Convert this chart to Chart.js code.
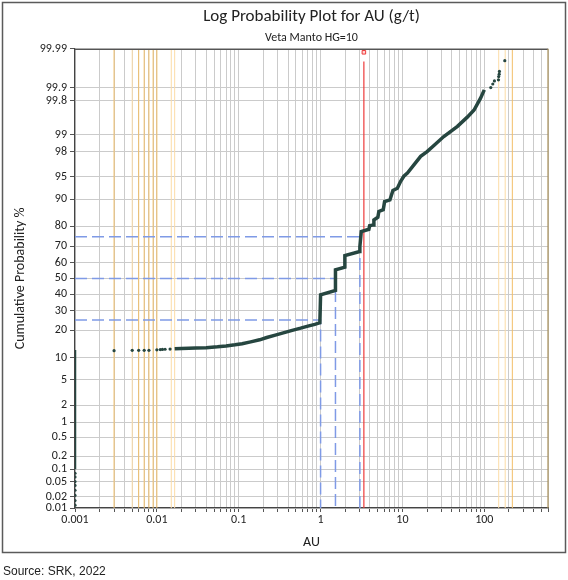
<!DOCTYPE html>
<html>
<head>
<meta charset="utf-8">
<script src="https://cdn.jsdelivr.net/npm/chart.js@4.4.1/dist/chart.umd.min.js"></script>
<style>
  html, body { margin: 0; padding: 0; background: #fff; }
  #wrap { position: absolute; left: 0; top: 0; width: 568px; height: 580px; }
  #source { position: absolute; left: 3px; top: 564px; font: 12px 'Liberation Sans', Arial, sans-serif; color: #222; }
</style>
</head>
<body>
<div id="wrap"><canvas id="chart"></canvas></div>
<div id="source">Source: SRK, 2022</div>
<script>
// axes
const xMin = 0.001;
const xMax = 600;
const xDecades = [0.001, 0.01, 0.1, 1, 10, 100];
const xTickLabels = ['0.001', '0.01', '0.1', '1', '10', '100'];
const yTicks = [0.01, 0.02, 0.05, 0.1, 0.2, 0.5, 1, 2, 5, 10, 20, 30, 40, 50, 60, 70, 80, 90, 95, 98, 99, 99.8, 99.9, 99.99];
const yTickLabels = ['0.01', '0.02', '0.05', '0.1', '0.2', '0.5', '1', '2', '5', '10', '20', '30', '40', '50', '60', '70', '80', '90', '95', '98', '99', '99.8', '99.9', '99.99'];

// samples at detection limit (AU = 0.001)
const dlLineProb = [0.1, 0.3, 1, 3, 6, 9, 12.3];
const dlDotProb = [0.012, 0.016, 0.022, 0.03, 0.04, 0.05, 0.065, 0.08];

// sparse low grade points
const lowAu = [0.003, 0.005, 0.006, 0.007, 0.008, 0.01, 0.011, 0.0117, 0.0126, 0.0145];
const lowProb = [12.1, 12.2, 12.2, 12.2, 12.2, 12.35, 12.45, 12.5, 12.55, 12.6];

// main curve
const curveAu = [0.0165, 0.02, 0.03, 0.04, 0.055, 0.07, 0.09, 0.11, 0.14, 0.18, 0.22, 0.28, 0.35, 0.45, 0.57, 0.7, 0.85, 0.98,
  1.0, 1.52, 1.52, 1.98, 1.98, 3.0, 3.02, 3.14,
  3.89, 3.97, 4.41, 4.48, 5.01, 5.15, 5.83, 6.05, 7.03, 7.65, 8.67, 9.51, 10.4, 11.5, 13.8, 16.7, 20, 25, 32, 47, 62, 75, 90, 100];
const curveProb = [12.7, 12.8, 12.95, 13.1, 13.4, 13.7, 14.1, 14.5, 15.2, 16.0, 16.9, 17.9, 18.9, 20.0, 21.0, 22.0, 22.8, 23.6,
  39.5, 42.2, 55.5, 57.2, 64.4, 66.8, 69.7, 77.6,
  78.7, 80.3, 80.7, 82.8, 83.9, 86.1, 86.7, 89.3, 89.8, 92.3, 92.8, 94.2, 95.1, 95.6, 96.7, 97.6, 98.0, 98.5, 98.92, 99.31, 99.55, 99.68, 99.825, 99.887];

// sparse high grade points
const topAu = [120, 127, 133, 149, 150, 152, 153, 178];
const topProb = [99.9, 99.918, 99.931, 99.935, 99.946, 99.953, 99.96, 99.979];

// reference lines
const quartileProb = [25, 50, 75];
const quartileAu = [1.0, 1.52, 3.02];
const meanAu = 3.38;
const orangeStrong = [0.003, 0.006, 0.007, 0.008, 0.009, 0.01, 220];
const orangeLight = [0.005, 0.015, 0.0165, 150, 180];

const yMin = 0.01;
const yMax = 99.99;

const probit = (p) => {
  const a = [-39.69683028665376, 220.9460984245205, -275.9285104469687, 138.3577518672690, -30.66479806614716, 2.506628277459239];
  const b = [-54.47609879822406, 161.5858368580409, -155.6989798598866, 66.80131188771972, -13.28068155288572];
  const c = [-0.007784894002430293, -0.3223964580411365, -2.400758277161838, -2.549671348366591, 4.374664141464968, 2.938163982698783];
  const d = [0.007784695709041462, 0.3224671290700398, 2.445134137142996, 3.754408661907416];
  const pl = 0.02425;
  if (p < pl) {
    const q = Math.sqrt(-2 * Math.log(p));
    return (((((c[0] * q + c[1]) * q + c[2]) * q + c[3]) * q + c[4]) * q + c[5]) / ((((d[0] * q + d[1]) * q + d[2]) * q + d[3]) * q + 1);
  }
  if (p <= 1 - pl) {
    const q = p - 0.5;
    const r = q * q;
    return (((((a[0] * r + a[1]) * r + a[2]) * r + a[3]) * r + a[4]) * r + a[5]) * q / (((((b[0] * r + b[1]) * r + b[2]) * r + b[3]) * r + b[4]) * r + 1);
  }
  const q = Math.sqrt(-2 * Math.log(1 - p));
  return -(((((c[0] * q + c[1]) * q + c[2]) * q + c[3]) * q + c[4]) * q + c[5]) / ((((d[0] * q + d[1]) * q + d[2]) * q + d[3]) * q + 1);
};

const normCdf = (z) => {
  const t = 1 / (1 + 0.3275911 * Math.abs(z) / Math.SQRT2);
  const y = 1 - (((((1.061405429 * t - 1.453152027) * t) + 1.421413741) * t - 0.284496736) * t + 0.254829592) * t * Math.exp(-z * z / 2);
  return z >= 0 ? (1 + y) / 2 : (1 - y) / 2;
};

// probability (normal quantile) axis
class ProbabilityScale extends Chart.Scale {
  static id = 'probability';
  static defaults = {};

  determineDataLimits() {
    this.min = this.options.min;
    this.max = this.options.max;
  }

  buildTicks() {
    return yTicks.map((v) => ({ value: v }));
  }

  getLabelForValue(v) {
    return String(v);
  }

  getPixelForValue(v) {
    if (v === null || v === undefined || isNaN(v)) return NaN;
    const z0 = probit(this.min / 100);
    const z1 = probit(this.max / 100);
    return this.getPixelForDecimal((probit(v / 100) - z0) / (z1 - z0));
  }

  getValueForPixel(px) {
    const z0 = probit(this.min / 100);
    const z1 = probit(this.max / 100);
    return normCdf(z0 + this.getDecimalForPixel(px) * (z1 - z0)) * 100;
  }
}
Chart.register(ProbabilityScale);

const xGridTicks = [];
xDecades.forEach((d) => {
  for (let k = 1; k <= 9; k++) {
    const v = +(d * k).toPrecision(6);
    if (v <= xMax) xGridTicks.push(v);
  }
});

const pts = (xs, ys) => xs.map((x, i) => ({ x, y: ys[i] }));
const dark = '#264640';

const vLine = (x, color, order) => ({
  data: [{ x, y: yMin }, { x, y: yMax }],
  showLine: true,
  borderColor: color,
  borderWidth: 1,
  pointRadius: 0,
  order,
});

const datasets = [
  {
    data: pts(curveAu, curveProb),
    showLine: true,
    borderColor: dark,
    borderWidth: 3.5,
    pointRadius: 0,
    order: 0,
  },
  {
    data: dlLineProb.map((p) => ({ x: xMin, y: p })),
    showLine: true,
    borderColor: dark,
    borderWidth: 2.5,
    pointRadius: 0,
    order: 0,
  },
  {
    data: [
      ...dlDotProb.map((p) => ({ x: xMin, y: p })),
      ...pts(lowAu, lowProb),
      ...pts(topAu, topProb),
    ],
    backgroundColor: dark,
    borderColor: dark,
    pointRadius: 1.6,
    borderWidth: 0,
    order: 0,
  },
  ...quartileProb.map((p, i) => ({
    data: [{ x: xMin, y: p }, { x: quartileAu[i], y: p }, { x: quartileAu[i], y: yMin }],
    showLine: true,
    borderColor: '#7f9ae6',
    borderWidth: 1.5,
    borderDash: [12, 5],
    pointRadius: 0,
    order: 2,
  })),
  {
    data: [{ x: meanAu, y: 99.978 }, { x: meanAu, y: yMin }],
    showLine: true,
    borderColor: '#ee3a3a',
    borderWidth: 1.2,
    pointRadius: 0,
    order: 1,
  },
  {
    data: [{ x: meanAu, y: 99.9875 }],
    pointStyle: 'rect',
    pointRadius: 2.5,
    backgroundColor: '#ffd6d6',
    borderColor: '#ee3a3a',
    borderWidth: 1,
    order: 1,
  },
  ...orangeStrong.map((x) => vLine(x, '#f2bf68', 3)),
  ...orangeLight.map((x) => vLine(x, '#fcdca6', 3)),
];

const framePlugin = {
  id: 'frame',
  beforeDraw(chart) {
    const { ctx } = chart;
    ctx.save();
    ctx.fillStyle = '#fff';
    ctx.fillRect(0, 0, chart.width, chart.height);
    ctx.restore();
  },
  afterDraw(chart) {
    const { ctx, chartArea: a } = chart;
    ctx.save();
    ctx.lineWidth = 1.2;
    ctx.strokeStyle = '#555';
    ctx.beginPath();
    ctx.moveTo(a.left, a.top + 0.5);
    ctx.lineTo(a.right, a.top + 0.5);
    ctx.stroke();
    ctx.strokeStyle = '#a8905a';
    ctx.beginPath();
    ctx.moveTo(a.right, a.top);
    ctx.lineTo(a.right, a.bottom);
    ctx.stroke();
    ctx.lineWidth = 1.5;
    ctx.strokeStyle = '#5a5a5a';
    ctx.strokeRect(2.5, 2.5, 563, 550);
    ctx.restore();
  },
};

Chart.defaults.font.family = "Carlito, Lato, 'Open Sans', sans-serif";
Chart.defaults.color = '#222';

new Chart(document.getElementById('chart'), {
  type: 'scatter',
  data: { datasets },
  plugins: [framePlugin],
  options: {
    responsive: true,
    maintainAspectRatio: false,
    animation: false,
    layout: { padding: { left: 8, right: 20, top: 0, bottom: 25 } },
    plugins: {
      legend: { display: false },
      tooltip: { enabled: false },
      title: {
        display: true,
        text: 'Log Probability Plot for AU (g/t)',
        fullSize: false,
        font: { size: 17, weight: 'normal' },
        color: '#222',
        padding: { top: 7, bottom: 2 },
      },
      subtitle: {
        display: true,
        text: 'Veta Manto HG=10',
        fullSize: false,
        font: { size: 12 },
        color: '#222',
        padding: { top: 1, bottom: 4 },
      },
    },
    scales: {
      x: {
        type: 'logarithmic',
        min: xMin,
        max: xMax,
        afterBuildTicks: (scale) => {
          scale.ticks = xGridTicks.map((v) => ({ value: v }));
        },
        afterFit: (scale) => {
          scale.height = 47;
        },
        ticks: {
          autoSkip: false,
          maxRotation: 0,
          padding: 1,
          font: { size: 12 },
          color: '#222',
          callback: (v) => {
            const i = xDecades.findIndex((d) => Math.abs(Math.log10(d) - Math.log10(v)) < 1e-6);
            return i >= 0 ? xTickLabels[i] : '';
          },
        },
        grid: { color: '#cbcbcb', lineWidth: 1, tickLength: 4, tickColor: '#555' },
        border: { color: '#444', width: 1.2 },
        title: { display: true, text: 'AU', font: { size: 14 }, color: '#222' },
      },
      y: {
        type: 'probability',
        min: yMin,
        max: yMax,
        afterFit: (scale) => {
          scale.width = 67;
        },
        ticks: {
          autoSkip: false,
          padding: 3,
          font: { size: 12 },
          color: '#222',
          callback: (v, i) => yTickLabels[i],
        },
        grid: { color: '#cbcbcb', lineWidth: 1, tickLength: 5, tickColor: '#555' },
        border: { color: '#444', width: 1.2 },
        title: { display: true, text: 'Cumulative Probability %', font: { size: 14 }, color: '#222' },
      },
    },
  },
});
</script>
</body>
</html>
